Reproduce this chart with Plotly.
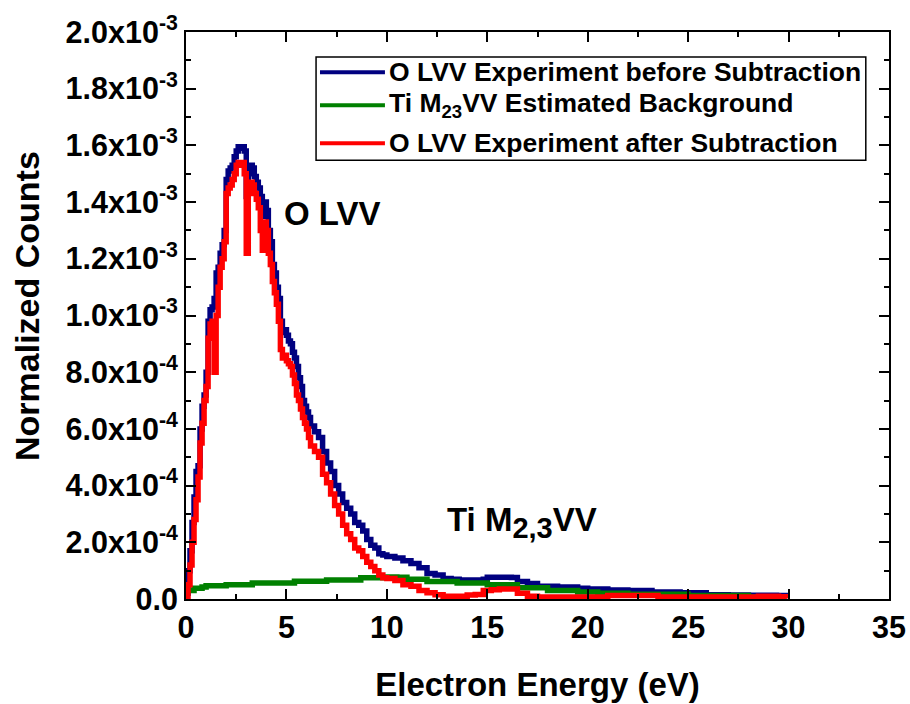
import plotly.graph_objects as go

# ---------------- data ----------------
energy_before = [0.0, 0.05, 0.1, 0.2, 0.3, 0.4, 0.5, 0.6, 0.7, 0.8, 0.9, 1.0, 1.1, 1.2, 1.3, 1.4,
                 1.5, 1.6, 1.7, 1.8, 1.9, 2.0, 2.1, 2.2, 2.3, 2.4, 2.5, 2.6, 2.7, 2.8, 2.9,
                 3.0, 3.1, 3.2, 3.3, 3.4, 3.5, 3.6, 3.7, 3.8, 3.9, 4.0, 4.1, 4.2, 4.3, 4.4,
                 4.5, 4.6, 4.7, 4.8, 4.9, 5.0, 5.1, 5.2, 5.3, 5.4, 5.5, 5.6, 5.7, 5.8, 5.9,
                 6.0, 6.1, 6.2, 6.4, 6.6, 6.8, 7.0, 7.2, 7.4, 7.6, 7.8, 8.0, 8.2, 8.4, 8.6,
                 8.8, 9.0, 9.2, 9.4, 9.6, 9.8, 10.0, 10.4, 10.8, 11.2, 11.6, 12.0, 12.4,
                 12.8, 13.2, 13.6, 14.0, 14.4, 14.8, 15.0, 15.6, 16.2, 16.5, 17.0, 17.5,
                 18.5, 19.5, 20.0, 21.0, 22.0, 23.2, 24.6, 25.9, 27.0, 28.0, 29.4, 29.9]
counts_before = [0.0, 0.02, 0.10, 0.17, 0.27, 0.36, 0.45, 0.47, 0.60, 0.68, 0.72, 0.80, 0.98, 1.02,
                 1.03, 1.06, 1.15, 1.17, 1.22, 1.25, 1.30, 1.48, 1.51, 1.52, 1.53, 1.56, 1.58,
                 1.595, 1.59, 1.595, 1.58, 1.42, 1.50, 1.53, 1.52, 1.49, 1.47, 1.45, 1.42, 1.35,
                 1.40, 1.37, 1.30, 1.26, 1.18, 1.15, 1.10, 1.06, 0.98, 0.94, 0.95, 0.93, 0.91,
                 0.90, 0.87, 0.85, 0.82, 0.78, 0.75, 0.70, 0.68, 0.66, 0.64, 0.61, 0.59, 0.57,
                 0.52, 0.48, 0.45, 0.40, 0.37, 0.34, 0.32, 0.30, 0.27, 0.26, 0.24, 0.21, 0.19,
                 0.18, 0.16, 0.155, 0.15, 0.145, 0.135, 0.125, 0.11, 0.09, 0.085, 0.072, 0.07,
                 0.067, 0.067, 0.067, 0.07, 0.077, 0.077, 0.076, 0.062, 0.055, 0.045, 0.042,
                 0.038, 0.035, 0.032, 0.030, 0.025, 0.022, 0.015, 0.014, 0.013, 0.012, 0.007]

energy_background = [0.2, 0.4, 0.8, 1.0, 2.0, 3.3, 5.4, 7.0, 8.7, 10.0, 10.5, 11.0, 12.0, 13.5,
                     15.0, 16.5, 18.0, 19.5, 20.5, 22.0, 25.0, 28.0, 29.9]
counts_background = [0.030, 0.038, 0.042, 0.047, 0.050, 0.056, 0.063, 0.067, 0.075, 0.078, 0.077,
                     0.070, 0.062, 0.056, 0.050, 0.040, 0.030, 0.025, 0.020, 0.017, 0.012, 0.008,
                     0.005]

energy_after = [0.0, 0.1, 0.2, 0.3, 0.4, 0.5, 0.6, 0.7, 0.8, 0.9, 1.0, 1.1, 1.2, 1.3, 1.4, 1.5,
                1.6, 1.7, 1.8, 1.9, 2.0, 2.1, 2.2, 2.3, 2.4, 2.5, 2.6, 2.7, 2.8, 2.9, 3.0, 3.1,
                3.2, 3.3, 3.4, 3.5, 3.6, 3.7, 3.8, 3.9, 4.0, 4.1, 4.2, 4.3, 4.4, 4.5, 4.6, 4.7,
                4.8, 4.9, 5.0, 5.1, 5.2, 5.3, 5.4, 5.5, 5.6, 5.7, 5.8, 5.9, 6.0, 6.1, 6.2, 6.4,
                6.6, 6.8, 7.0, 7.2, 7.4, 7.6, 7.8, 8.0, 8.2, 8.4, 8.6, 8.8, 9.0, 9.2, 9.4, 9.6,
                9.8, 10.0, 10.4, 10.8, 11.2, 11.6, 12.0, 12.4, 12.8, 13.2, 13.6, 14.0, 14.4,
                14.8, 15.2, 15.6, 16.2, 16.5, 17.0, 17.5, 20.0, 21.0, 23.0, 23.5, 28.0, 28.5,
                29.5, 29.9]
counts_after = [0.0, 0.05, 0.12, 0.20, 0.28, 0.35, 0.43, 0.55, 0.62, 0.70, 0.75, 0.92, 0.97, 0.98,
                0.80, 1.00, 1.10, 1.17, 1.20, 1.26, 1.43, 1.45, 1.46, 1.48, 1.50, 1.53, 1.54,
                1.53, 1.54, 1.50, 1.22, 1.43, 1.47, 1.46, 1.43, 1.41, 1.38, 1.30, 1.23, 1.33,
                1.30, 1.22, 1.18, 1.12, 1.08, 1.04, 0.98, 0.88, 0.85, 0.86, 0.84, 0.83, 0.82,
                0.79, 0.76, 0.72, 0.70, 0.67, 0.64, 0.62, 0.60, 0.57, 0.54, 0.52, 0.50, 0.44,
                0.41, 0.37, 0.33, 0.30, 0.26, 0.23, 0.21, 0.18, 0.17, 0.15, 0.13, 0.115, 0.10,
                0.085, 0.075, 0.072, 0.065, 0.050, 0.045, 0.030, 0.022, 0.015, 0.010, 0.010,
                0.010, 0.014, 0.016, 0.030, 0.033, 0.035, 0.035, 0.020, 0.010, 0.007, 0.007,
                0.012, 0.012, 0.007, 0.007, 0.010, 0.008, 0.002]

scale = 1e-3  # counts above are in units of 1e-3

series_names = ["O LVV Experiment before Subtraction",
                "Ti M<sub>23</sub>VV Estimated Background",
                "O LVV Experiment after Subtraction"]
series_colors = ["#000080", "#008000", "#FF0000"]

y_tick_vals = [0.0, 0.2e-3, 0.4e-3, 0.6e-3, 0.8e-3, 1.0e-3, 1.2e-3, 1.4e-3, 1.6e-3, 1.8e-3, 2.0e-3]
y_tick_text = ["0.0", "2.0x10<sup>-4</sup>", "4.0x10<sup>-4</sup>", "6.0x10<sup>-4</sup>",
               "8.0x10<sup>-4</sup>", "1.0x10<sup>-3</sup>", "1.2x10<sup>-3</sup>",
               "1.4x10<sup>-3</sup>", "1.6x10<sup>-3</sup>", "1.8x10<sup>-3</sup>",
               "2.0x10<sup>-3</sup>"]
y_minor_vals = [0.1e-3, 0.3e-3, 0.5e-3, 0.7e-3, 0.9e-3, 1.1e-3, 1.3e-3, 1.5e-3, 1.7e-3, 1.9e-3]
x_tick_vals = [0, 5, 10, 15, 20, 25, 30, 35]

FONT = "Liberation Sans, Arial, sans-serif"

fig = go.Figure()
data_sets = [(energy_before, counts_before),
             (energy_background, counts_background),
             (energy_after, counts_after)]
for (ex, cy), name, col in zip(data_sets, series_names, series_colors):
    fig.add_trace(go.Scatter(
        x=ex, y=[v * scale for v in cy], mode="lines", name=name,
        line=dict(color=col, width=5.5, shape="hv"), showlegend=False))

# ---------------- manual legend (Origin-like) ----------------
fig.add_shape(type="rect", xref="paper", yref="paper", x0=0.185, x1=0.967, y0=0.774, y1=0.956,
              line=dict(color="black", width=1.5), fillcolor="white", layer="above")
legend_y = [0.929, 0.871, 0.804]
for ly, name, col in zip(legend_y, series_names, series_colors):
    fig.add_shape(type="line", xref="paper", yref="paper", x0=0.1906, x1=0.283, y0=ly, y1=ly,
                  line=dict(color=col, width=4), layer="above")
    fig.add_annotation(xref="paper", yref="paper", x=0.286, y=ly, text="<b>%s</b>" % name,
                       showarrow=False, xanchor="left", yanchor="middle",
                       font=dict(family=FONT, size=26.5, color="black"))

# ---------------- peak labels ----------------
fig.add_annotation(x=4.8, y=1.36e-3, text="<b>O LVV</b>", showarrow=False, xanchor="left",
                   yanchor="middle", font=dict(family=FONT, size=33, color="black"))
fig.add_annotation(x=12.9, y=0.27e-3,
                   text="<b>Ti M<sub><span style='font-size:29px'>2,3</span></sub>VV</b>",
                   showarrow=False, xanchor="left", yanchor="middle",
                   font=dict(family=FONT, size=33, color="black"))

# y-axis title placed as rotated text left of the tick labels
fig.add_annotation(xref="paper", yref="paper", x=-0.226, y=0.517,
                   text="<b>Normalized Counts</b>", textangle=-90, showarrow=False,
                   xanchor="center", yanchor="middle",
                   font=dict(family=FONT, size=34, color="black"))

axis_common = dict(showline=True, linecolor="black", linewidth=2, mirror="ticks",
                   ticks="inside", tickcolor="black", tickwidth=2, ticklen=10,
                   showgrid=False, zeroline=False, automargin=False,
                   tickfont=dict(family=FONT, size=30.5, color="black"))

fig.update_xaxes(range=[0, 35], tickmode="array", tickvals=x_tick_vals,
                 ticktext=["<b>%d</b>" % v for v in x_tick_vals],
                 minor=dict(ticks="inside", ticklen=5, tickwidth=2, tickcolor="black",
                            tickvals=[2.5, 7.5, 12.5, 17.5, 22.5, 27.5, 32.5]),
                 title=dict(text="<b>Electron Energy (eV)</b>", standoff=30,
                            font=dict(family=FONT, size=33, color="black")),
                 **axis_common)
fig.update_yaxes(range=[0, 2.0e-3], tickmode="array", tickvals=y_tick_vals,
                 ticktext=["<b>%s</b>" % t for t in y_tick_text],
                 minor=dict(ticks="inside", ticklen=5, tickwidth=2, tickcolor="black",
                            tickvals=y_minor_vals),
                 **axis_common)

fig.update_layout(width=910, height=704, plot_bgcolor="white", paper_bgcolor="white",
                  margin=dict(l=186, r=21, t=32, b=105), showlegend=False)

fig.write_html("out.html")
